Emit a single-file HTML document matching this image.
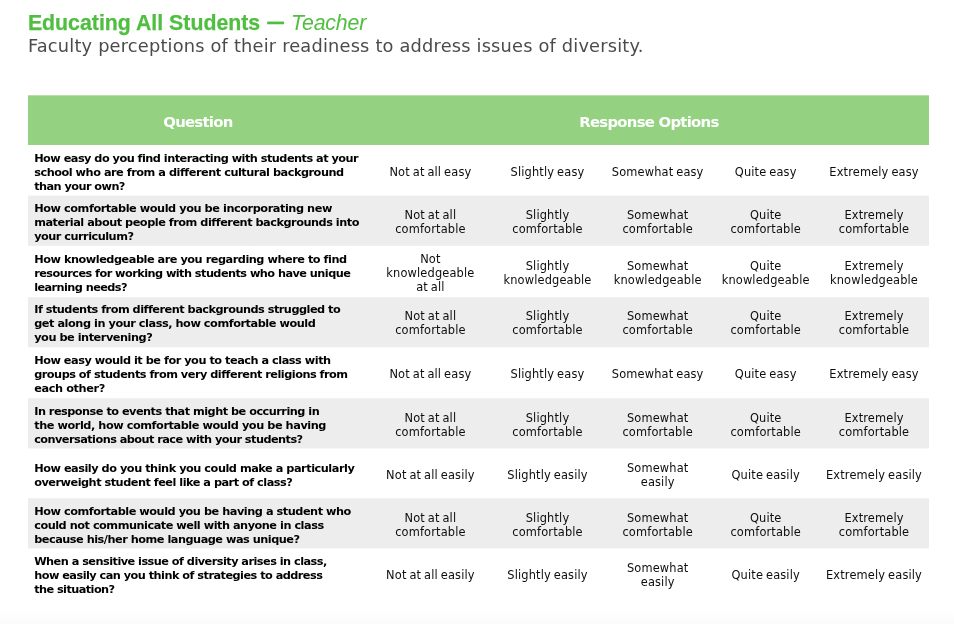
<!DOCTYPE html>
<html lang="en">
<head>
<meta charset="utf-8">
<title>Educating All Students — Teacher</title>
<style>
html,body{margin:0;padding:0;}
body{width:954px;height:624px;position:relative;overflow:hidden;background:#fff;font-family:"Liberation Sans",sans-serif;}
.fade{position:absolute;left:0;top:610px;width:954px;height:14px;background:linear-gradient(#ffffff,#fafafa);}
.t{position:absolute;top:11px;white-space:nowrap;font-family:"Liberation Sans",sans-serif;font-size:21.3px;line-height:24px;color:#50be40;}
.t1{left:27.9px;font-weight:bold;letter-spacing:0px;-webkit-text-stroke:0.25px #50be40;}
.t2{top:10px;left:264.9px;width:21.3px;font-weight:bold;transform:scaleX(0.785);transform-origin:50% 50%;-webkit-text-stroke:0.3px #50be40;}
.t3{left:291.1px;font-style:italic;letter-spacing:-0.17px;}
.sub{position:absolute;left:28px;top:34px;white-space:nowrap;font-family:"DejaVu Sans","Liberation Sans",sans-serif;font-size:17.8px;line-height:24px;color:#4b4b4d;letter-spacing:0.19px;}
.head{position:absolute;left:28px;top:95px;width:901px;height:50px;background:linear-gradient(to bottom,rgba(148,210,130,0.7) 0,rgba(148,210,130,0.7) 1px,#94d282 1px,#94d282 50px);}
.hl{position:absolute;top:112px;width:300px;height:20px;line-height:20px;color:#fff;font-family:"DejaVu Sans","Liberation Sans",sans-serif;font-weight:bold;font-size:14.9px;text-align:center;white-space:nowrap;letter-spacing:-0.75px;}
.row{position:absolute;left:28px;width:901px;}
.q{position:absolute;left:34.2px;white-space:nowrap;font-family:"DejaVu Sans","Liberation Sans",sans-serif;font-weight:bold;font-size:11.3px;line-height:14px;color:#000;}
.q span{display:block;}
.o{position:absolute;width:130px;white-space:nowrap;text-align:center;font-family:"DejaVu Sans","Liberation Sans",sans-serif;font-size:11.4px;line-height:14px;color:#0d0d0d;letter-spacing:0.15px;word-spacing:-0.85px;}
</style>
</head>
<body>
<div class="fade"></div>
<div class="t t1">Educating All Students</div>
<div class="t t2">—</div>
<div class="t t3">Teacher</div>
<div class="sub">Faculty perceptions of their readiness to address issues of diversity.</div>
<div class="head"></div>
<div class="hl" style="left:47.9px;">Question</div>
<div class="hl" style="left:498.9px;">Response Options</div>
<div class="q" style="top:151.5px;"><span style="letter-spacing:-0.525px">How easy do you find interacting with students at your</span><span style="letter-spacing:-0.479px">school who are from a different cultural background</span><span style="letter-spacing:-0.559px">than your own?</span></div>
<div class="o" style="left:365.4px;top:165.0px;">Not at all easy</div>
<div class="o" style="left:482.5px;top:165.0px;">Slightly easy</div>
<div class="o" style="left:592.7px;top:165.0px;">Somewhat easy</div>
<div class="o" style="left:700.7px;top:165.0px;">Quite easy</div>
<div class="o" style="left:809.0px;top:165.0px;">Extremely easy</div>
<div class="row" style="top:195px;height:51px;background:linear-gradient(to bottom,rgba(237,237,237,0.35) 0,rgba(237,237,237,0.35) 1px,rgba(237,237,237,1) 1px,rgba(237,237,237,1) 50px,rgba(237,237,237,0.85) 50px,rgba(237,237,237,0.85) 51px);"></div>
<div class="q" style="top:201.5px;"><span style="letter-spacing:-0.441px">How comfortable would you be incorporating new</span><span style="letter-spacing:-0.485px">material about people from different backgrounds into</span><span style="letter-spacing:-0.510px">your curriculum?</span></div>
<div class="o" style="left:365.4px;top:208.0px;">Not at all<br>comfortable</div>
<div class="o" style="left:482.5px;top:208.0px;">Slightly<br>comfortable</div>
<div class="o" style="left:592.7px;top:208.0px;">Somewhat<br>comfortable</div>
<div class="o" style="left:700.7px;top:208.0px;">Quite<br>comfortable</div>
<div class="o" style="left:809.0px;top:208.0px;">Extremely<br>comfortable</div>
<div class="q" style="top:252.5px;"><span style="letter-spacing:-0.474px">How knowledgeable are you regarding where to find</span><span style="letter-spacing:-0.547px">resources for working with students who have unique</span><span style="letter-spacing:-0.581px">learning needs?</span></div>
<div class="o" style="left:365.4px;top:252.0px;">Not<br>knowledgeable<br>at all</div>
<div class="o" style="left:482.5px;top:259.0px;">Slightly<br>knowledgeable</div>
<div class="o" style="left:592.7px;top:259.0px;">Somewhat<br>knowledgeable</div>
<div class="o" style="left:700.7px;top:259.0px;">Quite<br>knowledgeable</div>
<div class="o" style="left:809.0px;top:259.0px;">Extremely<br>knowledgeable</div>
<div class="row" style="top:297px;height:51px;background:linear-gradient(to bottom,rgba(237,237,237,0.80) 0,rgba(237,237,237,0.80) 1px,rgba(237,237,237,1) 1px,rgba(237,237,237,1) 50px,rgba(237,237,237,0.30) 50px,rgba(237,237,237,0.30) 51px);"></div>
<div class="q" style="top:302.5px;"><span style="letter-spacing:-0.506px">If students from different backgrounds struggled to</span><span style="letter-spacing:-0.458px">get along in your class, how comfortable would</span><span style="letter-spacing:-0.466px">you be intervening?</span></div>
<div class="o" style="left:365.4px;top:309.0px;">Not at all<br>comfortable</div>
<div class="o" style="left:482.5px;top:309.0px;">Slightly<br>comfortable</div>
<div class="o" style="left:592.7px;top:309.0px;">Somewhat<br>comfortable</div>
<div class="o" style="left:700.7px;top:309.0px;">Quite<br>comfortable</div>
<div class="o" style="left:809.0px;top:309.0px;">Extremely<br>comfortable</div>
<div class="q" style="top:353.5px;"><span style="letter-spacing:-0.482px">How easy would it be for you to teach a class with</span><span style="letter-spacing:-0.504px">groups of students from very different religions from</span><span style="letter-spacing:-0.391px">each other?</span></div>
<div class="o" style="left:365.4px;top:367.0px;">Not at all easy</div>
<div class="o" style="left:482.5px;top:367.0px;">Slightly easy</div>
<div class="o" style="left:592.7px;top:367.0px;">Somewhat easy</div>
<div class="o" style="left:700.7px;top:367.0px;">Quite easy</div>
<div class="o" style="left:809.0px;top:367.0px;">Extremely easy</div>
<div class="row" style="top:398px;height:51px;background:linear-gradient(to bottom,rgba(237,237,237,0.80) 0,rgba(237,237,237,0.80) 1px,rgba(237,237,237,1) 1px,rgba(237,237,237,1) 50px,rgba(237,237,237,0.40) 50px,rgba(237,237,237,0.40) 51px);"></div>
<div class="q" style="top:404.5px;"><span style="letter-spacing:-0.513px">In response to events that might be occurring in</span><span style="letter-spacing:-0.443px">the world, how comfortable would you be having</span><span style="letter-spacing:-0.548px">conversations about race with your students?</span></div>
<div class="o" style="left:365.4px;top:411.0px;">Not at all<br>comfortable</div>
<div class="o" style="left:482.5px;top:411.0px;">Slightly<br>comfortable</div>
<div class="o" style="left:592.7px;top:411.0px;">Somewhat<br>comfortable</div>
<div class="o" style="left:700.7px;top:411.0px;">Quite<br>comfortable</div>
<div class="o" style="left:809.0px;top:411.0px;">Extremely<br>comfortable</div>
<div class="q" style="top:461.5px;"><span style="letter-spacing:-0.473px">How easily do you think you could make a particularly</span><span style="letter-spacing:-0.501px">overweight student feel like a part of class?</span></div>
<div class="o" style="left:365.4px;top:468.0px;">Not at all easily</div>
<div class="o" style="left:482.5px;top:468.0px;">Slightly easily</div>
<div class="o" style="left:592.7px;top:461.0px;">Somewhat<br>easily</div>
<div class="o" style="left:700.7px;top:468.0px;">Quite easily</div>
<div class="o" style="left:809.0px;top:468.0px;">Extremely easily</div>
<div class="row" style="top:498px;height:51px;background:linear-gradient(to bottom,rgba(237,237,237,0.80) 0,rgba(237,237,237,0.80) 1px,rgba(237,237,237,1) 1px,rgba(237,237,237,1) 50px,rgba(237,237,237,0.40) 50px,rgba(237,237,237,0.40) 51px);"></div>
<div class="q" style="top:504.5px;"><span style="letter-spacing:-0.467px">How comfortable would you be having a student who</span><span style="letter-spacing:-0.484px">could not communicate well with anyone in class</span><span style="letter-spacing:-0.492px">because his/her home language was unique?</span></div>
<div class="o" style="left:365.4px;top:511.0px;">Not at all<br>comfortable</div>
<div class="o" style="left:482.5px;top:511.0px;">Slightly<br>comfortable</div>
<div class="o" style="left:592.7px;top:511.0px;">Somewhat<br>comfortable</div>
<div class="o" style="left:700.7px;top:511.0px;">Quite<br>comfortable</div>
<div class="o" style="left:809.0px;top:511.0px;">Extremely<br>comfortable</div>
<div class="q" style="top:554.5px;"><span style="letter-spacing:-0.533px">When a sensitive issue of diversity arises in class,</span><span style="letter-spacing:-0.532px">how easily can you think of strategies to address</span><span style="letter-spacing:-0.569px">the situation?</span></div>
<div class="o" style="left:365.4px;top:568.0px;">Not at all easily</div>
<div class="o" style="left:482.5px;top:568.0px;">Slightly easily</div>
<div class="o" style="left:592.7px;top:561.0px;">Somewhat<br>easily</div>
<div class="o" style="left:700.7px;top:568.0px;">Quite easily</div>
<div class="o" style="left:809.0px;top:568.0px;">Extremely easily</div>
</body>
</html>
